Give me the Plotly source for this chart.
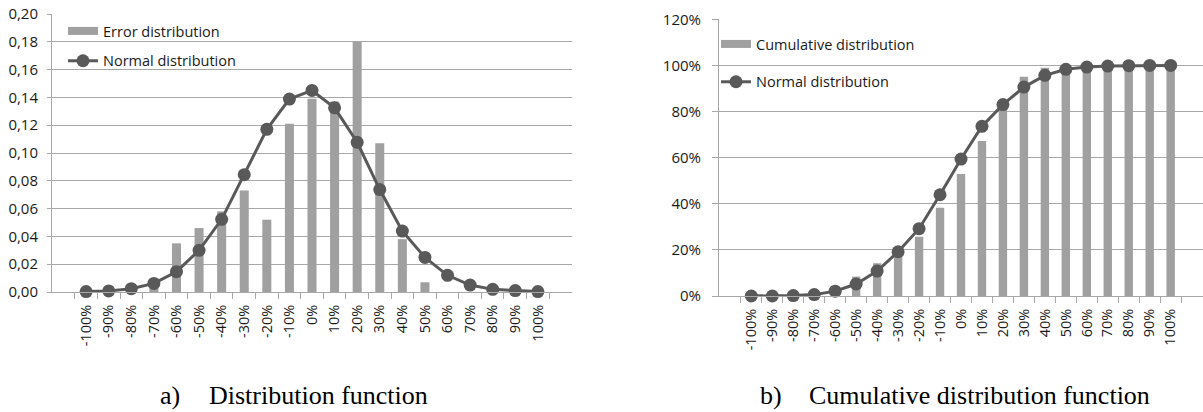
import plotly.graph_objects as go

# ---------------- data ----------------
categories = ["-100%", "-90%", "-80%", "-70%", "-60%", "-50%", "-40%", "-30%", "-20%", "-10%",
              "0%", "10%", "20%", "30%", "40%", "50%", "60%", "70%", "80%", "90%", "100%"]

error_distribution = [0, 0, 0, 0.003, 0.035, 0.046, 0.058, 0.073, 0.052, 0.121,
                      0.139, 0.137, 0.180, 0.107, 0.038, 0.007, 0, 0, 0, 0, 0]

normal_pdf = [0.0003, 0.0008, 0.0024, 0.0062, 0.0146, 0.030, 0.0523, 0.0844, 0.117, 0.1388,
              0.145, 0.1325, 0.1077, 0.0737, 0.0438, 0.0249, 0.012, 0.005, 0.0019, 0.001, 0.0003]

cumulative_distribution = [0, 0, 0, 0.003, 0.038, 0.084, 0.142, 0.21, 0.257, 0.383,
                           0.529, 0.672, 0.84, 0.951, 0.99, 0.997, 1.0, 1.0, 1.0, 1.0, 1.0]

normal_cdf = [0, 0, 0.002, 0.006, 0.021, 0.052, 0.108, 0.192, 0.292, 0.439,
              0.594, 0.736, 0.83, 0.906, 0.957, 0.983, 0.993, 0.997, 0.999, 1.0, 1.0]

left_y_ticks = [0, 0.02, 0.04, 0.06, 0.08, 0.10, 0.12, 0.14, 0.16, 0.18, 0.20]
right_y_ticks = [0, 0.2, 0.4, 0.6, 0.8, 1.0, 1.2]

# ---------------- style ----------------
W, H = 1203, 412
BAR = "#a0a0a0"
LINE = "#595959"
GRID = "#a8a8a8"
TXT = "#1a1a1a"
FONT = "Open Sans"
TICKFONT = dict(family=FONT, size=14.5, color=TXT)
YTICKFONT = dict(family=FONT, size=15, color=TXT)
SERIF = dict(family="Liberation Serif", size=26, color="black")


def px(x):
    return x / W


def py(y):
    return 1 - y / H


fig = go.Figure()

# ---- left chart ----
fig.add_trace(go.Bar(x=categories, y=error_distribution, marker=dict(color=BAR, line=dict(width=0)),
                     width=0.4, showlegend=False, xaxis="x", yaxis="y"))
fig.add_trace(go.Scatter(x=[categories[0]], y=[None], mode="lines", name="Error distribution",
                         line=dict(color=BAR, width=8), legend="legend", legendgroup="a1",
                         xaxis="x", yaxis="y"))
fig.add_trace(go.Scatter(x=categories, y=normal_pdf, mode="lines+markers", name="Normal distribution",
                         line=dict(color=LINE, width=3), marker=dict(size=13, color=LINE),
                         cliponaxis=False, legend="legend", legendgroup="a2", xaxis="x", yaxis="y"))

# ---- right chart ----
fig.add_trace(go.Bar(x=categories, y=cumulative_distribution, marker=dict(color=BAR, line=dict(width=0)),
                     width=0.4, showlegend=False, xaxis="x2", yaxis="y2"))
fig.add_trace(go.Scatter(x=[categories[0]], y=[None], mode="lines", name="Cumulative distribution",
                         line=dict(color=BAR, width=8), legend="legend2", legendgroup="b1",
                         xaxis="x2", yaxis="y2"))
fig.add_trace(go.Scatter(x=categories, y=normal_cdf, mode="lines+markers", name="Normal distribution",
                         line=dict(color=LINE, width=3), marker=dict(size=13, color=LINE),
                         cliponaxis=False, legend="legend2", legendgroup="b2", xaxis="x2", yaxis="y2"))

xaxis_common = dict(type="category", showline=True, linecolor=GRID, linewidth=1, ticks="outside",
                    tickson="boundaries", ticklen=6, tickcolor=GRID, tickangle=-90, showgrid=False,
                    tickfont=TICKFONT, ticklabelstandoff=6, zeroline=False, fixedrange=True,
                    automargin=False)
yaxis_common = dict(showgrid=True, gridcolor=GRID, gridwidth=1, showline=True, linecolor=GRID,
                    linewidth=1, ticks="outside", tickcolor=GRID, zeroline=False,
                    tickfont=YTICKFONT, fixedrange=True, automargin=False)

fig.update_layout(
    width=W, height=H, autosize=False,
    margin=dict(l=0, r=0, t=0, b=0, autoexpand=False),
    paper_bgcolor="white", plot_bgcolor="white",
    separators=",.",
    hovermode=False,
    xaxis=dict(domain=[px(52), px(572)], anchor="y", **xaxis_common),
    yaxis=dict(domain=[py(292), py(14)], anchor="x", range=[0, 0.2], tickvals=left_y_ticks,
               tickformat=".2f", ticklen=4, ticklabelstandoff=6, **yaxis_common),
    xaxis2=dict(domain=[px(719), 1.0], anchor="y2", **xaxis_common),
    yaxis2=dict(domain=[py(296), py(19.3)], anchor="x2", range=[0, 1.2], tickvals=right_y_ticks,
                tickformat=".0%", ticklen=6, ticklabelstandoff=8, **yaxis_common),
    legend=dict(x=px(63), y=py(15), xanchor="left", yanchor="top", bgcolor="rgba(0,0,0,0)",
                font=dict(family=FONT, size=14.5, color=TXT), traceorder="grouped",
                tracegroupgap=8, itemclick=False),
    legend2=dict(x=px(716), y=py(28), xanchor="left", yanchor="top", bgcolor="rgba(0,0,0,0)",
                 font=dict(family=FONT, size=14.5, color=TXT), traceorder="grouped",
                 tracegroupgap=16, itemclick=False),
    annotations=[
        dict(text="a)", x=px(158), y=0, xref="paper", yref="paper", xanchor="left",
             yanchor="bottom", showarrow=False, font=SERIF),
        dict(text="Distribution function", x=px(207), y=0, xref="paper", yref="paper",
             xanchor="left", yanchor="bottom", showarrow=False, font=SERIF),
        dict(text="b)", x=px(758), y=0, xref="paper", yref="paper", xanchor="left",
             yanchor="bottom", showarrow=False, font=SERIF),
        dict(text="Cumulative distribution function", x=px(807), y=0, xref="paper", yref="paper",
             xanchor="left", yanchor="bottom", showarrow=False, font=SERIF),
    ],
)

fig.write_html("out.html", config={"displayModeBar": False, "staticPlot": True},
               post_script="document.body.style.margin='0px';")
